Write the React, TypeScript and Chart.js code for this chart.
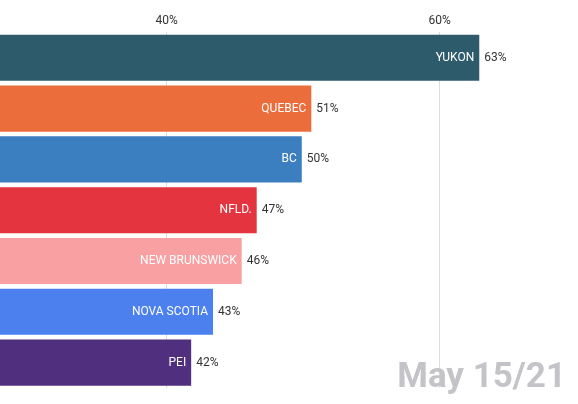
import React, { useEffect, useRef } from "react";
import { Chart, registerables } from "chart.js";

Chart.register(...registerables);

const provinces = ["YUKON", "QUEBEC", "BC", "NFLD.", "NEW BRUNSWICK", "NOVA SCOTIA", "PEI"];
const shares = [62.9, 50.6, 49.9, 46.6, 45.5, 43.4, 41.8];
const barColors = ["#2e5b6b", "#ec6d3c", "#3b7fc0", "#e3343f", "#f8a0a2", "#4c80ef", "#4f2f7e"];
const tickValues = [40, 60];
const dateLabel = "May 15/21";

const FONT = "Roboto, 'Noto Sans', sans-serif";

const labelPlugin = {
  id: "barLabels",
  afterDatasetsDraw(chart: any) {
    const ctx = chart.ctx;
    const meta = chart.getDatasetMeta(0);
    ctx.save();
    ctx.textBaseline = "middle";
    ctx.font = `12px ${FONT}`;
    meta.data.forEach((bar: any, i: number) => {
      ctx.fillStyle = "#ffffff";
      ctx.textAlign = "right";
      ctx.fillText(provinces[i], bar.x - 5, bar.y);
      ctx.fillStyle = "#333333";
      ctx.textAlign = "left";
      ctx.fillText(`${Math.round(shares[i])}%`, bar.x + 5, bar.y);
    });
    ctx.font = `bold 35px ${FONT}`;
    ctx.fillStyle = "#c4c4c8";
    ctx.textAlign = "right";
    ctx.textBaseline = "alphabetic";
    ctx.fillText(dateLabel, 566, 387);
    ctx.restore();
  },
};

export default function App() {
  const ref = useRef<HTMLCanvasElement>(null);
  useEffect(() => {
    if (!ref.current) return;
    const chart = new Chart(ref.current, {
      type: "bar",
      data: {
        labels: provinces,
        datasets: [
          {
            data: shares,
            backgroundColor: barColors,
            categoryPercentage: 1,
            barPercentage: 0.907,
          },
        ],
      },
      options: {
        indexAxis: "y",
        animation: false,
        responsive: false,
        maintainAspectRatio: false,
        layout: { padding: { top: 10, bottom: 16, left: 0, right: 0 } },
        plugins: { legend: { display: false }, tooltip: { enabled: false } },
        scales: {
          x: {
            position: "top",
            min: 27.8,
            max: 70.13,
            afterBuildTicks: (axis: any) => {
              axis.ticks = tickValues.map((v) => ({ value: v }));
            },
            ticks: {
              padding: 4,
              color: "#333333",
              font: { family: FONT, size: 12 },
              callback: (v: any) => `${v}%`,
            },
            grid: { color: "#dddddd", drawTicks: false },
            border: { display: false },
          },
          y: { display: false },
        },
      },
      plugins: [labelPlugin],
    });
    return () => chart.destroy();
  }, []);
  return (
    <div style={{ position: "absolute", left: 0, top: 0, width: 578, height: 404, background: "#fff" }}>
      <canvas ref={ref} width={578} height={404} style={{ width: 578, height: 404 }} />
    </div>
  );
}
